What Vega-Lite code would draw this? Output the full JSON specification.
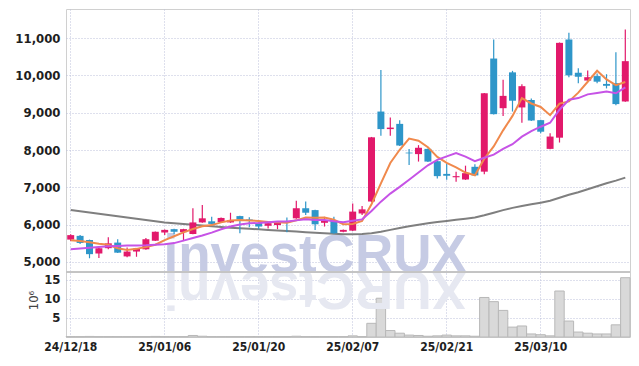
{
"$schema":"https://vega.github.io/schema/vega-lite/v6.json",
"width":564,"height":328,"autosize":"none",
"padding":{"left":66,"top":9,"right":9,"bottom":29},
"background":"white",
"config":{"view":{"stroke":"#d0d0d0"},
"axis":{"labelFont":"DejaVu Sans Condensed, Roboto, sans-serif","labelFontWeight":"bold","labelFontSize":13,"labelColor":"#1e1e1e","domain":false,"ticks":false,"gridColor":"#bcc0da","gridDash":[1,2],"gridWidth":1}},
"datasets":{
"k":[
{"d":"24/12/18","o":5600,"h":5740,"l":5560,"c":5720,"v":0.1,"m5":5580,"m10":5340,"m120":6390},
{"d":"24/12/19","o":5700,"h":5720,"l":5480,"c":5510,"v":0.1,"m5":5560,"m10":5360,"m120":6357},
{"d":"24/12/20","o":5590,"h":5600,"l":5100,"c":5210,"v":0.15,"m5":5530,"m10":5380,"m120":6324},
{"d":"24/12/23","o":5230,"h":5380,"l":5110,"c":5370,"v":0.1,"m5":5490,"m10":5400,"m120":6291},
{"d":"24/12/24","o":5370,"h":5660,"l":5340,"c":5500,"v":0.1,"m5":5462,"m10":5420,"m120":6258},
{"d":"24/12/26","o":5520,"h":5610,"l":5240,"c":5250,"v":0.1,"m5":5368,"m10":5430,"m120":6225},
{"d":"24/12/27","o":5150,"h":5390,"l":5130,"c":5280,"v":0.1,"m5":5322,"m10":5440,"m120":6192},
{"d":"24/12/30","o":5280,"h":5370,"l":5140,"c":5360,"v":0.1,"m5":5352,"m10":5445,"m120":6159},
{"d":"25/01/02","o":5340,"h":5640,"l":5330,"c":5610,"v":0.1,"m5":5400,"m10":5450,"m120":6126},
{"d":"25/01/03","o":5570,"h":5820,"l":5560,"c":5810,"v":0.15,"m5":5462,"m10":5462,"m120":6093},
{"d":"25/01/06","o":5790,"h":5870,"l":5720,"c":5860,"v":0.1,"m5":5584,"m10":5476,"m120":6060},
{"d":"25/01/07","o":5880,"h":5890,"l":5740,"c":5810,"v":0.1,"m5":5690,"m10":5506,"m120":6040},
{"d":"25/01/08","o":5800,"h":5890,"l":5560,"c":5880,"v":0.1,"m5":5794,"m10":5573,"m120":6020},
{"d":"25/01/09","o":5750,"h":6440,"l":5740,"c":6060,"v":0.4,"m5":5884,"m10":5642,"m120":6000},
{"d":"25/01/10","o":6060,"h":6530,"l":6050,"c":6170,"v":0.2,"m5":5956,"m10":5709,"m120":5980},
{"d":"25/01/13","o":6090,"h":6210,"l":6010,"c":6020,"v":0.1,"m5":5988,"m10":5786,"m120":5960},
{"d":"25/01/14","o":6070,"h":6190,"l":6060,"c":6180,"v":0.1,"m5":6062,"m10":5876,"m120":5940},
{"d":"25/01/15","o":6060,"h":6320,"l":6050,"c":6120,"v":0.1,"m5":6110,"m10":5952,"m120":5920},
{"d":"25/01/16","o":6230,"h":6240,"l":5770,"c":6140,"v":0.1,"m5":6126,"m10":6005,"m120":5905},
{"d":"25/01/17","o":6140,"h":6200,"l":5930,"c":6110,"v":0.1,"m5":6114,"m10":6035,"m120":5890},
{"d":"25/01/20","o":6050,"h":6060,"l":5880,"c":5950,"v":0.1,"m5":6100,"m10":6044,"m120":5875},
{"d":"25/01/21","o":5970,"h":6050,"l":5900,"c":6040,"v":0.1,"m5":6072,"m10":6067,"m120":5860},
{"d":"25/01/22","o":5990,"h":6090,"l":5880,"c":6080,"v":0.1,"m5":6064,"m10":6087,"m120":5845},
{"d":"25/01/23","o":6080,"h":6190,"l":5800,"c":6070,"v":0.1,"m5":6050,"m10":6088,"m120":5830},
{"d":"25/01/24","o":6170,"h":6640,"l":6160,"c":6440,"v":0.2,"m5":6116,"m10":6115,"m120":5815},
{"d":"25/01/31","o":6440,"h":6620,"l":6260,"c":6320,"v":0.1,"m5":6190,"m10":6145,"m120":5800},
{"d":"25/02/03","o":6390,"h":6400,"l":5860,"c":6010,"v":0.1,"m5":6184,"m10":6128,"m120":5785},
{"d":"25/02/04","o":6050,"h":6210,"l":5950,"c":6110,"v":0.1,"m5":6190,"m10":6127,"m120":5770},
{"d":"25/02/05","o":6100,"h":6210,"l":5760,"c":5770,"v":0.1,"m5":6130,"m10":6090,"m120":5755},
{"d":"25/02/06","o":5810,"h":5870,"l":5800,"c":5860,"v":0.1,"m5":6014,"m10":6065,"m120":5745},
{"d":"25/02/07","o":5840,"h":6570,"l":5830,"c":6350,"v":0.3,"m5":6020,"m10":6105,"m120":5740},
{"d":"25/02/10","o":6300,"h":6500,"l":6260,"c":6410,"v":0.1,"m5":6100,"m10":6142,"m120":5750},
{"d":"25/02/11","o":6620,"h":8350,"l":6600,"c":8340,"v":3.6,"m5":6546,"m10":6368,"m120":5770},
{"d":"25/02/12","o":9030,"h":10140,"l":8380,"c":8560,"v":10.2,"m5":7104,"m10":6617,"m120":5810},
{"d":"25/02/13","o":8560,"h":8870,"l":8380,"c":8600,"v":1.7,"m5":7652,"m10":6833,"m120":5860},
{"d":"25/02/14","o":8700,"h":8800,"l":8110,"c":8120,"v":1.0,"m5":8006,"m10":7013,"m120":5910},
{"d":"25/02/17","o":7930,"h":8030,"l":7600,"c":7910,"v":0.5,"m5":8306,"m10":7203,"m120":5960},
{"d":"25/02/18","o":7890,"h":8130,"l":7690,"c":8060,"v":0.4,"m5":8250,"m10":7398,"m120":6000},
{"d":"25/02/19","o":8030,"h":8040,"l":7680,"c":7690,"v":0.2,"m5":8076,"m10":7590,"m120":6040},
{"d":"25/02/20","o":7700,"h":7710,"l":7240,"c":7300,"v":0.3,"m5":7816,"m10":7734,"m120":6070},
{"d":"25/02/21","o":7360,"h":7640,"l":7200,"c":7310,"v":0.5,"m5":7654,"m10":7830,"m120":6100},
{"d":"25/02/24","o":7270,"h":7420,"l":7150,"c":7300,"v":0.3,"m5":7532,"m10":7919,"m120":6130},
{"d":"25/02/25","o":7210,"h":7580,"l":7200,"c":7380,"v":0.3,"m5":7396,"m10":7823,"m120":6160},
{"d":"25/02/26","o":7550,"h":7620,"l":7310,"c":7320,"v":0.2,"m5":7322,"m10":7699,"m120":6190},
{"d":"25/02/27","o":7420,"h":9530,"l":7350,"c":9520,"v":10.4,"m5":7766,"m10":7791,"m120":6250},
{"d":"25/02/28","o":10450,"h":10960,"l":8950,"c":8960,"v":9.3,"m5":8096,"m10":7875,"m120":6320},
{"d":"25/03/04","o":9120,"h":9880,"l":8910,"c":9450,"v":7.0,"m5":8526,"m10":8029,"m120":6390},
{"d":"25/03/05","o":10080,"h":10120,"l":9030,"c":9320,"v":2.6,"m5":8914,"m10":8155,"m120":6450},
{"d":"25/03/06","o":9140,"h":9760,"l":8730,"c":9710,"v":2.9,"m5":9392,"m10":8357,"m120":6500},
{"d":"25/03/07","o":9340,"h":9380,"l":8780,"c":8790,"v":0.8,"m5":9246,"m10":8506,"m120":6545},
{"d":"25/03/10","o":8800,"h":8810,"l":8450,"c":8490,"v":0.6,"m5":9152,"m10":8624,"m120":6590},
{"d":"25/03/11","o":8030,"h":8450,"l":8020,"c":8360,"v":0.3,"m5":8934,"m10":8730,"m120":6640},
{"d":"25/03/12","o":8330,"h":10880,"l":8200,"c":10870,"v":12.1,"m5":9244,"m10":9079,"m120":6720},
{"d":"25/03/13","o":10960,"h":11140,"l":9950,"c":10000,"v":4.2,"m5":9302,"m10":9347,"m120":6800},
{"d":"25/03/14","o":10070,"h":10190,"l":9790,"c":9960,"v":1.3,"m5":9536,"m10":9391,"m120":6870},
{"d":"25/03/17","o":9860,"h":10130,"l":9850,"c":9950,"v":1.0,"m5":9828,"m10":9490,"m120":6950},
{"d":"25/03/18","o":9980,"h":10050,"l":9790,"c":9830,"v":0.8,"m5":10122,"m10":9528,"m120":7030},
{"d":"25/03/19","o":9770,"h":10030,"l":9650,"c":9720,"v":0.8,"m5":9892,"m10":9568,"m120":7110},
{"d":"25/03/20","o":9790,"h":10620,"l":9200,"c":9230,"v":3.2,"m5":9738,"m10":9520,"m120":7180},
{"d":"25/03/21","o":9300,"h":11230,"l":9290,"c":10380,"v":15.6,"m5":9822,"m10":9679,"m120":7260}
],
"wm":[{"d":"25/02/03","wy":17.2,"t":"investCRUX","r":"XURCtsevni"}]
},
"data":{"name":"k"},
"encoding":{"x":{"field":"d","type":"ordinal","scale":{"type":"band","paddingInner":0,"paddingOuter":0},
"axis":{"values":["24/12/18","25/01/06","25/01/20","25/02/07","25/02/21","25/03/10"],"title":null,"labelAngle":0,"grid":true,"bandPosition":0.5,"labelPadding":4,"labelFontSize":12}}},
"layer":[
{"layer":[
{"mark":{"type":"bar","fill":"#d9d9d9","stroke":"#b8b8b8","strokeWidth":1},
"encoding":{"y":{"field":"v","type":"quantitative","title":"10⁶","scale":{"domain":[0,86.3],"nice":false,"zero":true},
"axis":{"orient":"left","values":[5,10,15],"title":"10⁶","titleX":-33,"titleY":291,"titleAngle":-90,"titleFont":"DejaVu Sans Condensed, Roboto, sans-serif","titleFontWeight":"normal","titleFontSize":13,"titleColor":"#444","titleAlign":"center","titleBaseline":"middle","grid":true,"labelPadding":6}}}},
{"data":{"name":"wm"},"mark":{"type":"text","font":"Liberation Sans","fontWeight":"bold","fontSize":53,"color":"#c6cbe4","baseline":"alphabetic","align":"center"},
"encoding":{"y":{"field":"wy","type":"quantitative","title":"10⁶"},"text":{"field":"t"}}},
{"data":{"name":"wm"},"mark":{"type":"text","font":"Liberation Sans","fontWeight":"bold","fontSize":53,"color":"#e6e8f1","baseline":"alphabetic","align":"center","angle":180},
"encoding":{"y":{"field":"wy","type":"quantitative","title":"10⁶"},"text":{"field":"r"}}}
]},
{"layer":[
{"mark":{"type":"line","color":"#7f7f7f","strokeWidth":2},"encoding":{"y":{"field":"m120","type":"quantitative","title":null,"scale":{"domain":[2991,11777],"nice":false,"zero":false},
"axis":{"orient":"left","values":[5000,6000,7000,8000,9000,10000,11000],"format":",.0f","title":null,"grid":true,"labelPadding":6}}}},
{"mark":{"type":"rule","color":"#c4c4c4","strokeWidth":1},"encoding":{"y":{"datum":4732,"type":"quantitative","title":null,
"axis":{"orient":"left","values":[5000,6000,7000,8000,9000,10000,11000],"format":",.0f","title":null,"grid":true,"labelPadding":6}},"x":null}},
{"mark":{"type":"rule","strokeWidth":1.2},"encoding":{"y":{"field":"l","type":"quantitative","title":null,
"axis":{"orient":"left","values":[5000,6000,7000,8000,9000,10000,11000],"format":",.0f","title":null,"grid":true,"labelPadding":6}},"y2":{"field":"h"},
"color":{"condition":{"test":"datum.c >= datum.o","value":"#e2196b"},"value":"#2e96c9"}}},
{"mark":{"type":"bar","width":{"band":0.74}},"encoding":{"y":{"field":"o","type":"quantitative","title":null,
"axis":{"orient":"left","values":[5000,6000,7000,8000,9000,10000,11000],"format":",.0f","title":null,"grid":true,"labelPadding":6}},"y2":{"field":"c"},
"color":{"condition":{"test":"datum.c >= datum.o","value":"#e2196b"},"value":"#2e96c9"}}},
{"mark":{"type":"line","color":"#f0894c","strokeWidth":2},"encoding":{"y":{"field":"m5","type":"quantitative","title":null,
"axis":{"orient":"left","values":[5000,6000,7000,8000,9000,10000,11000],"format":",.0f","title":null,"grid":true,"labelPadding":6}}}},
{"mark":{"type":"line","color":"#c653e6","strokeWidth":2},"encoding":{"y":{"field":"m10","type":"quantitative","title":null,
"axis":{"orient":"left","values":[5000,6000,7000,8000,9000,10000,11000],"format":",.0f","title":null,"grid":true,"labelPadding":6}}}}
]}
],
"resolve":{"scale":{"y":"independent"},"axis":{"y":"independent"}}
}
